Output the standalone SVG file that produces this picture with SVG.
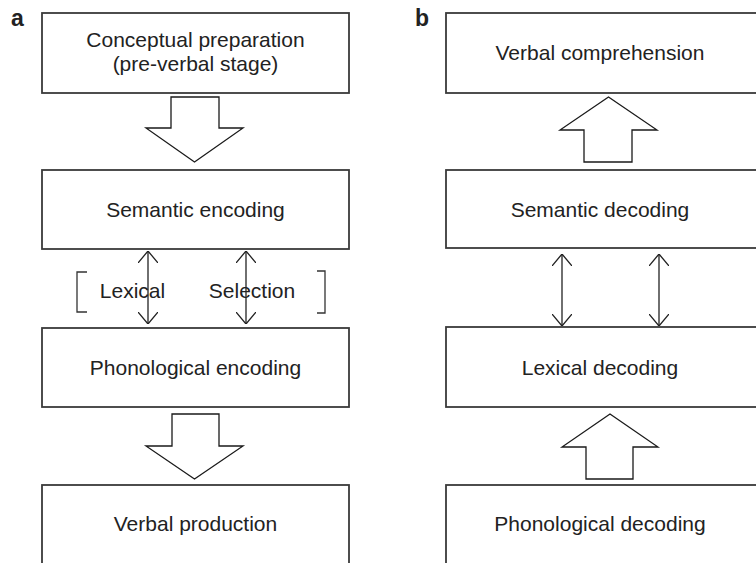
<svg xmlns="http://www.w3.org/2000/svg" width="756" height="563" viewBox="0 0 756 563">
  <style>
    .box { fill: #fff; stroke: #3a3a3a; stroke-width: 1.8; }
    .fat { fill: #fff; stroke: #1a1a1a; stroke-width: 1.3; stroke-linejoin: miter; }
    .lbl { font-family: "Liberation Sans", Arial, sans-serif; font-size: 21px; fill: #222; text-anchor: middle; }
    .tag { font-family: "Liberation Sans", Arial, sans-serif; font-size: 23px; font-weight: bold; fill: #222; }
    .dbl { fill: none; stroke: #222; stroke-width: 1.3; }
    .brk { fill: none; stroke: #333; stroke-width: 1.3; }
  </style>
  <defs>
    <marker id="tip" viewBox="0 0 12 20" refX="12" refY="10" markerWidth="12" markerHeight="20" markerUnits="userSpaceOnUse" orient="auto-start-reverse">
      <path d="M0,0 L12,10 L0,20" fill="none" stroke="#222" stroke-width="1.3"/>
    </marker>
  </defs>
  <rect width="756" height="563" fill="#fff"/>

  <!-- panel labels -->
  <text class="tag" x="11" y="26">a</text>
  <text class="tag" x="415" y="26">b</text>

  <!-- panel a: production -->
  <g id="conceptual">
    <rect class="box" x="42" y="13" width="307" height="80"/>
    <text class="lbl" x="195.5" y="47">Conceptual preparation</text>
    <text class="lbl" x="195.5" y="71">(pre-verbal stage)</text>
  </g>
  <g id="semantic-encoding">
    <rect class="box" x="42" y="170" width="307" height="79"/>
    <text class="lbl" x="195.5" y="217">Semantic encoding</text>
  </g>
  <g id="lexical-selection">
    <path class="brk" d="M87,272 H77 V312 H87"/>
    <path class="brk" d="M317,271 H325 V313 H317"/>
    <text class="lbl" x="132.5" y="298">Lexical</text>
    <text class="lbl" x="252" y="298">Selection</text>
  </g>
  <g id="phonological-encoding">
    <rect class="box" x="42" y="328" width="307" height="79"/>
    <text class="lbl" x="195.5" y="375">Phonological encoding</text>
  </g>
  <g id="verbal-production">
    <rect class="box" x="42" y="485" width="307" height="80"/>
    <text class="lbl" x="195.5" y="531">Verbal production</text>
  </g>

  <!-- panel b: comprehension -->
  <g id="verbal-comprehension">
    <rect class="box" x="446" y="13" width="320" height="80"/>
    <text class="lbl" x="600" y="60">Verbal comprehension</text>
  </g>
  <g id="semantic-decoding">
    <rect class="box" x="446" y="170" width="320" height="78"/>
    <text class="lbl" x="600" y="217">Semantic decoding</text>
  </g>
  <g id="lexical-decoding">
    <rect class="box" x="446" y="327" width="320" height="80"/>
    <text class="lbl" x="600" y="375">Lexical decoding</text>
  </g>
  <g id="phonological-decoding">
    <rect class="box" x="446" y="485" width="320" height="80"/>
    <text class="lbl" x="600" y="531">Phonological decoding</text>
  </g>

  <g id="connectors">
    <!-- block arrows -->
    <path class="fat" d="M171,97 H219 V128 H243 L194.5,162 L146,128 H171 Z"/>
    <path class="fat" d="M172,414 H219 V446 H243 L194.5,479 L146,446 H172 Z"/>
    <path class="fat" d="M584,162 H632 V130 H657 L608.5,97 L560,130 H584 Z"/>
    <path class="fat" d="M586,479 H633 V447 H658 L610,414 L562,447 H586 Z"/>
    <!-- two-way arrows -->
    <line class="dbl" x1="148" y1="251" x2="148" y2="324" marker-start="url(#tip)" marker-end="url(#tip)"/>
    <line class="dbl" x1="246" y1="251" x2="246" y2="324" marker-start="url(#tip)" marker-end="url(#tip)"/>
    <line class="dbl" x1="562" y1="254" x2="562" y2="326" marker-start="url(#tip)" marker-end="url(#tip)"/>
    <line class="dbl" x1="659" y1="254" x2="659" y2="326" marker-start="url(#tip)" marker-end="url(#tip)"/>
  </g>
</svg>
